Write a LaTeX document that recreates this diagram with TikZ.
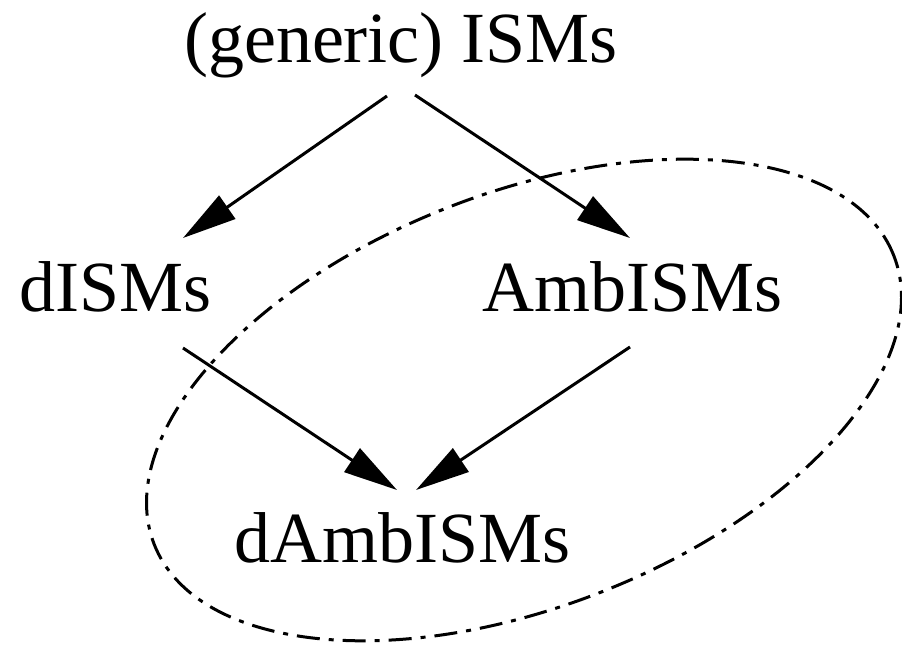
\documentclass[tikz,border=0pt]{standalone}
\usepackage{fontspec}
\setmainfont{Liberation Serif}
\usetikzlibrary{arrows.meta}
\begin{document}
\begin{tikzpicture}[x=1pt,y=1pt,
  lbl/.style={inner sep=0pt,anchor=base,font=\fontsize{72}{86}\selectfont},
  conn/.style={line width=3pt,-{Triangle[length=54pt,width=28pt]}},
  region/.style={line width=3pt,dash pattern=on 23pt off 9pt on 5pt off 9pt}]
\useasboundingbox (0,0) rectangle (902,645);
\node[lbl] (gen) at (401,582) {(generic) ISMs};
\node[lbl] (dism) at (116,333) {dISMs};
\node[lbl] (amb) at (633,333) {AmbISMs};
\node[lbl] (damb) at (403,82) {dAmbISMs};
\coordinate (g1) at (387,549);
\coordinate (g2) at (415,550);
\coordinate (d1) at (183,407);
\coordinate (a1) at (630,407);
\coordinate (d2) at (183,297);
\coordinate (a2) at (630,298);
\coordinate (m1) at (397,155);
\coordinate (m2) at (416,155);
\draw[conn] (g1) -- (d1);
\draw[conn] (g2) -- (a1);
\draw[conn] (d2) -- (m1);
\draw[conn] (a2) -- (m2);
\draw[region,rotate around={21.3:(524,245)}] (524,245) ellipse [x radius=397, y radius=207];
\end{tikzpicture}
\end{document}
